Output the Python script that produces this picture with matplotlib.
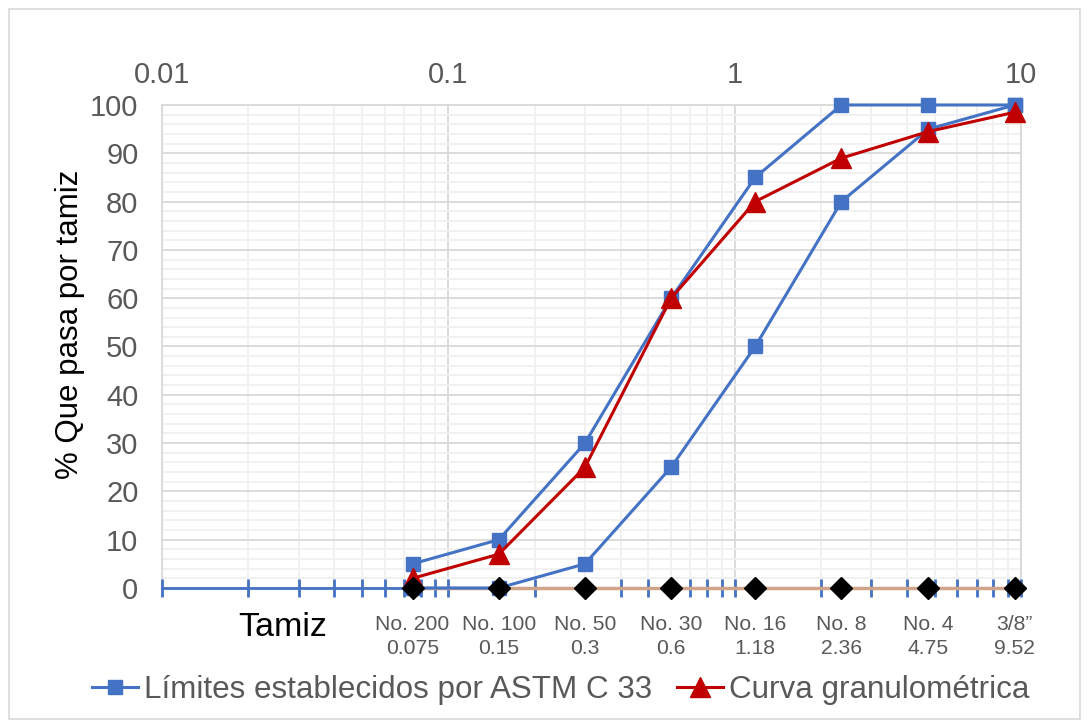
import numpy as np
import matplotlib
matplotlib.use("Agg")
import matplotlib.pyplot as plt
import matplotlib.transforms as mtransforms
from matplotlib.patches import Rectangle

plt.rcParams['font.family'] = ['Liberation Sans', 'DejaVu Sans']

# sieve data
tamices = ['No. 200', 'No. 100', 'No. 50', 'No. 30', 'No. 16', 'No. 8', 'No. 4', '3/8\u201d']
aberturas = [0.075, 0.15, 0.3, 0.6, 1.18, 2.36, 4.75, 9.52]
abertura_txt = ['0.075', '0.15', '0.3', '0.6', '1.18', '2.36', '4.75', '9.52']
limite_sup = [5, 10, 30, 60, 85, 100, 100, 100]
limite_inf = [0, 0, 5, 25, 50, 80, 95, 100]
curva = [2, 7, 25, 60, 80, 89, 94.5, 98.5]
base = [0, 0, 0, 0, 0, 0, 0, 0]

BLUE = '#4472C4'
RED = '#C00000'
GRAY = '#595959'

fig = plt.figure(figsize=(10.91, 7.28), dpi=100)
fig.patches.append(Rectangle((0.008, 0.012), 0.982, 0.975, transform=fig.transFigure,
                             fill=False, edgecolor='#d9d9d9', lw=1.2))
ax = fig.add_axes([0.1485, 0.1923, 0.7873, 0.6635])

ax.set_xscale('log')
ax.set_xlim(0.01, 10)
ax.set_ylim(0, 100)

# grid
ax.set_yticks(np.arange(0, 101, 10))
ax.set_yticks(np.arange(0, 101, 2), minor=True)
ax.grid(which='major', color='#d9d9d9', lw=1.3)
ax.grid(which='minor', color='#f0f0f0', lw=1.3)
ax.set_axisbelow(True)

for s in ['left', 'top', 'right']:
    ax.spines[s].set_color('#d9d9d9')
    ax.spines[s].set_linewidth(1.3)
ax.spines['bottom'].set_visible(False)

ax.tick_params(axis='y', which='both', length=0, labelsize=21, labelcolor=GRAY, pad=17)
ax.tick_params(axis='x', which='both', bottom=False, top=False, labelbottom=False,
               labeltop=True, labelsize=21, labelcolor=GRAY, pad=8)
ax.set_xticks([0.01, 0.1, 1, 10])
ax.set_xticklabels(['0.01', '0.1', '1', '10'])

# blue axis line at y=0 with ticks
ticks = np.outer([0.01, 0.1, 1], np.arange(1, 10)).ravel()
ticks = np.append(ticks, 10)
ax.plot([0.01, 10], [0, 0], color=BLUE, lw=2, clip_on=False, zorder=3)
ax.plot(ticks, np.zeros(len(ticks)), ls='none', marker='|', ms=13, mew=2,
        color=BLUE, clip_on=False, zorder=3)

# series
ax.plot(aberturas, base, color='#d0a488', lw=2.5, zorder=4, clip_on=False)
ax.plot(aberturas, limite_sup, color=BLUE, lw=2.2, marker='s', ms=10.5, zorder=5,
        clip_on=False, label='Límites establecidos por ASTM C 33')
ax.plot(aberturas, limite_inf, color=BLUE, lw=2.2, marker='s', ms=10.5, zorder=5,
        clip_on=False)
ax.plot(aberturas, curva, color=RED, lw=2.2, marker='^', ms=15, zorder=6,
        clip_on=False, label='Curva granulométrica')
ax.plot(aberturas, base, ls='none', marker='D', ms=11, color='black', zorder=7,
        clip_on=False)

ax.set_ylabel('% Que pasa por tamiz', fontsize=22.5, color='black')
ax.yaxis.set_label_coords(-0.090, 0.545)

# sieve labels under axis
trans = mtransforms.blended_transform_factory(ax.transData, ax.transAxes)
for x, t, a in zip(aberturas, tamices, abertura_txt):
    ax.text(x, -0.1, t + '\n' + a, transform=trans, ha='center', va='center',
            fontsize=15.2, color=GRAY, linespacing=1.3)
fig.text(283 / 1091, 1 - 627 / 728, 'Tamiz', fontsize=24.5, color='black',
         ha='center', va='center')

fig.legend(loc='center', bbox_to_anchor=(0.514, 1 - 690 / 728), ncol=2, frameon=False,
           fontsize=22.6, labelcolor=GRAY, handlelength=1.45, handletextpad=0.2,
           columnspacing=0.8)

fig.savefig('out.png', dpi=100)
